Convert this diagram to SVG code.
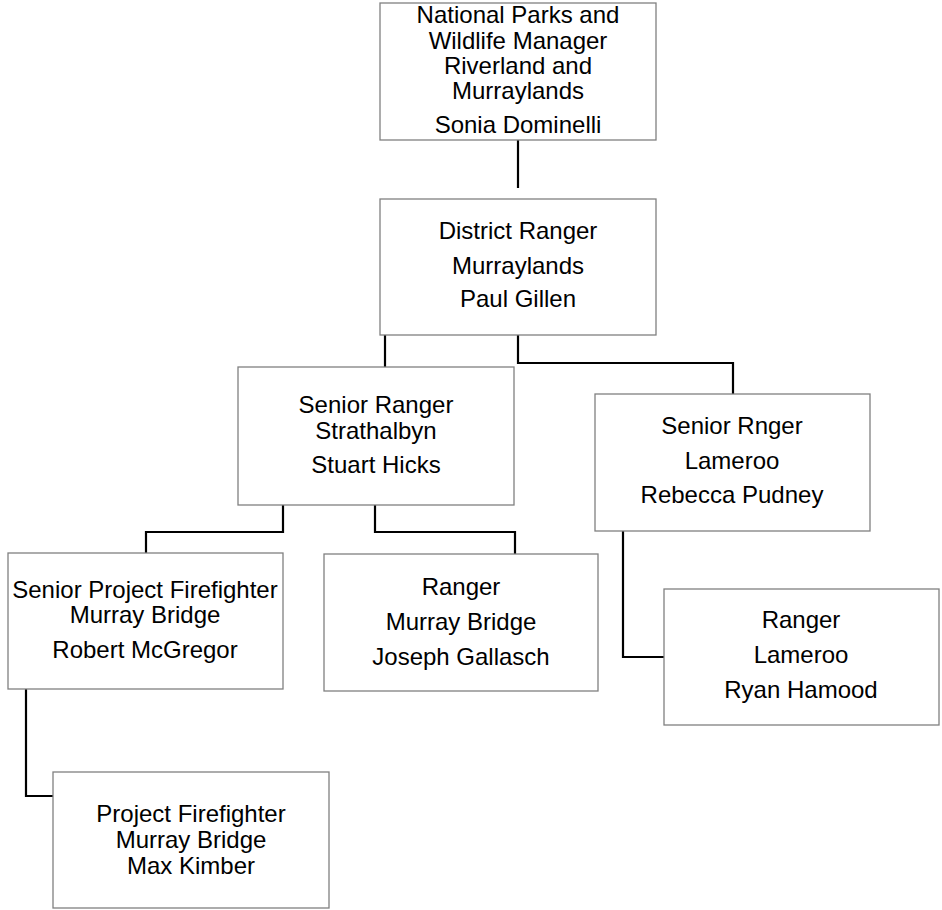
<svg xmlns="http://www.w3.org/2000/svg" width="942" height="910" viewBox="0 0 942 910">
<style>
.box{fill:#fff;stroke:#808080;stroke-width:1.3}
.t{font-family:"Liberation Sans",Arial,sans-serif;font-size:24px;fill:#000;text-anchor:middle}
.c{fill:none;stroke:#000;stroke-width:2.2}
</style>
<rect width="942" height="910" fill="#fff"/>
<g id="connectors">
<path class="c" d="M518 140 V188"/>
<path class="c" d="M385 335 V367"/>
<path class="c" d="M518 335 V363 H733 V394"/>
<path class="c" d="M283 505 V532 H146 V553"/>
<path class="c" d="M375 505 V532 H515 V554"/>
<path class="c" d="M26 689 V796 H53"/>
<path class="c" d="M623 531 V657 H664"/>
</g>
<g id="n1">
<rect class="box" x="380" y="3" width="276" height="137"/>
<text class="t" x="518" y="23">National Parks and</text>
<text class="t" x="518" y="49">Wildlife Manager</text>
<text class="t" x="518" y="74">Riverland and</text>
<text class="t" x="518" y="99">Murraylands</text>
<text class="t" x="518" y="133">Sonia Dominelli</text>
</g>
<g id="n2">
<rect class="box" x="380" y="199" width="276" height="136"/>
<text class="t" x="518" y="239">District Ranger</text>
<text class="t" x="518" y="274">Murraylands</text>
<text class="t" x="518" y="307">Paul Gillen</text>
</g>
<g id="n3">
<rect class="box" x="238" y="367" width="276" height="138"/>
<text class="t" x="376" y="413">Senior Ranger</text>
<text class="t" x="376" y="439">Strathalbyn</text>
<text class="t" x="376" y="473">Stuart Hicks</text>
</g>
<g id="n4">
<rect class="box" x="595" y="394" width="275" height="137"/>
<text class="t" x="732" y="434">Senior Rnger</text>
<text class="t" x="732" y="469">Lameroo</text>
<text class="t" x="732" y="503">Rebecca Pudney</text>
</g>
<g id="n5">
<rect class="box" x="8" y="553" width="275" height="136"/>
<text class="t" x="145" y="598">Senior Project Firefighter</text>
<text class="t" x="145" y="623">Murray Bridge</text>
<text class="t" x="145" y="658">Robert McGregor</text>
</g>
<g id="n6">
<rect class="box" x="324" y="554" width="274" height="137"/>
<text class="t" x="461" y="595">Ranger</text>
<text class="t" x="461" y="630">Murray Bridge</text>
<text class="t" x="461" y="665">Joseph Gallasch</text>
</g>
<g id="n7">
<rect class="box" x="664" y="589" width="275" height="136"/>
<text class="t" x="801" y="628">Ranger</text>
<text class="t" x="801" y="663">Lameroo</text>
<text class="t" x="801" y="698">Ryan Hamood</text>
</g>
<g id="n8">
<rect class="box" x="53" y="772" width="276" height="136"/>
<text class="t" x="191" y="822">Project Firefighter</text>
<text class="t" x="191" y="848">Murray Bridge</text>
<text class="t" x="191" y="874">Max Kimber</text>
</g>
</svg>
